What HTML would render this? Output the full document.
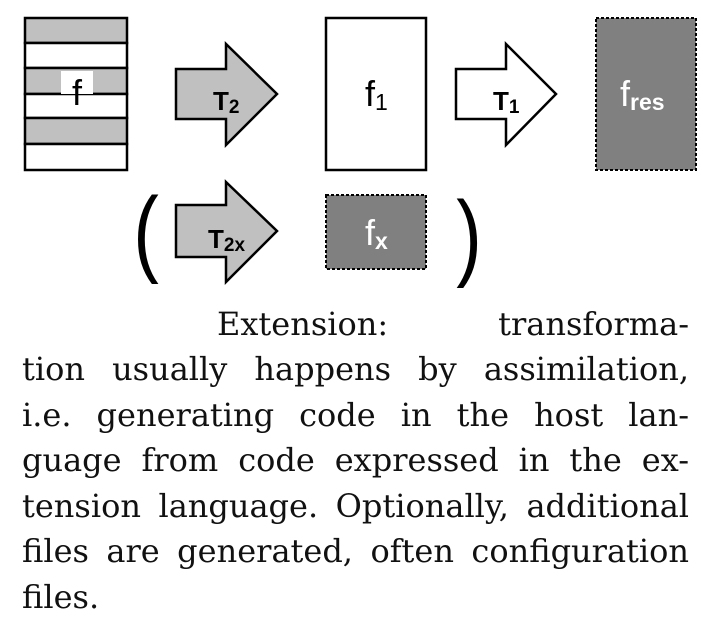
<!DOCTYPE html>
<html><head><meta charset="utf-8"><style>
body{margin:0;width:707px;height:630px;background:#fff;overflow:hidden;position:relative}
svg{position:absolute;left:0;top:0}
.ln{position:absolute;left:22px;width:667px;font-family:"DejaVu Serif","Liberation Serif",serif;font-size:32px;line-height:44px;color:#111;text-align:justify;text-align-last:justify;white-space:nowrap}
</style></head><body>
<svg width="707" height="300" font-family="Liberation Sans, sans-serif">
<g stroke="#000" stroke-width="2.5">
<rect x="25" y="18" width="102" height="25" fill="#c0c0c0"/>
<rect x="25" y="43" width="102" height="25" fill="#fff"/>
<rect x="25" y="68" width="102" height="26" fill="#c0c0c0"/>
<rect x="25" y="94" width="102" height="24" fill="#fff"/>
<rect x="25" y="118" width="102" height="26" fill="#c0c0c0"/>
<rect x="25" y="144" width="102" height="26" fill="#fff"/>
</g>
<rect x="61" y="71" width="32" height="23" fill="#fff"/>
<text x="77" y="105" font-size="36" text-anchor="middle">f</text>
<polygon points="176,69 226,69 226,44 277,94 226,145 226,119 176,119" fill="#c0c0c0" stroke="#000" stroke-width="2.5"/>
<text x="213" y="110" font-size="26" font-weight="bold">T<tspan font-size="19" dy="3">2</tspan></text>
<rect x="326" y="18" width="100" height="152" fill="#fff" stroke="#000" stroke-width="2.5"/>
<text x="365" y="106" font-size="36">f<tspan font-size="23" dy="4">1</tspan></text>
<polygon points="456,69 506,69 506,44 556,94 506,145 506,119 456,119" fill="#fff" stroke="#000" stroke-width="2.5"/>
<text x="493" y="110" font-size="26" font-weight="bold">T<tspan font-size="19" dy="3">1</tspan></text>
<rect x="596" y="18" width="100" height="152" fill="#808080" stroke="#000" stroke-width="2" stroke-dasharray="3,2"/>
<text x="620" y="106" font-size="36" fill="#fff">f<tspan font-size="23" dy="4" font-weight="bold">res</tspan></text>
<text x="146" y="264" font-size="96" text-anchor="middle" transform="translate(146,0) scale(0.8,1) translate(-146,0)">(</text>
<polygon points="176,205 226,205 226,182 277,231 226,282 226,257 176,257" fill="#c0c0c0" stroke="#000" stroke-width="2.5"/>
<text x="208" y="248" font-size="26" font-weight="bold">T<tspan font-size="19" dy="3">2x</tspan></text>
<rect x="326" y="195" width="100" height="74" fill="#808080" stroke="#000" stroke-width="2" stroke-dasharray="3,2"/>
<text x="365" y="245" font-size="36" fill="#fff">f<tspan font-size="23" dy="4" font-weight="bold">x</tspan></text>
<text x="469" y="268" font-size="96" text-anchor="middle" transform="translate(469,0) scale(0.8,1) translate(-469,0)">)</text>
</svg>
<div>
<div class="ln" style="top:302px;left:217px;width:472px">Extension: transforma-</div>
<div class="ln" style="top:347px">tion usually happens by assimilation,</div>
<div class="ln" style="top:393px">i.e. generating code in the host lan-</div>
<div class="ln" style="top:438px">guage from code expressed in the ex-</div>
<div class="ln" style="top:484px">tension language. Optionally, additional</div>
<div class="ln" style="top:529px">files are generated, often configuration</div>
<div class="ln" style="top:575px;text-align-last:left">files.</div>
</div>
</body></html>
